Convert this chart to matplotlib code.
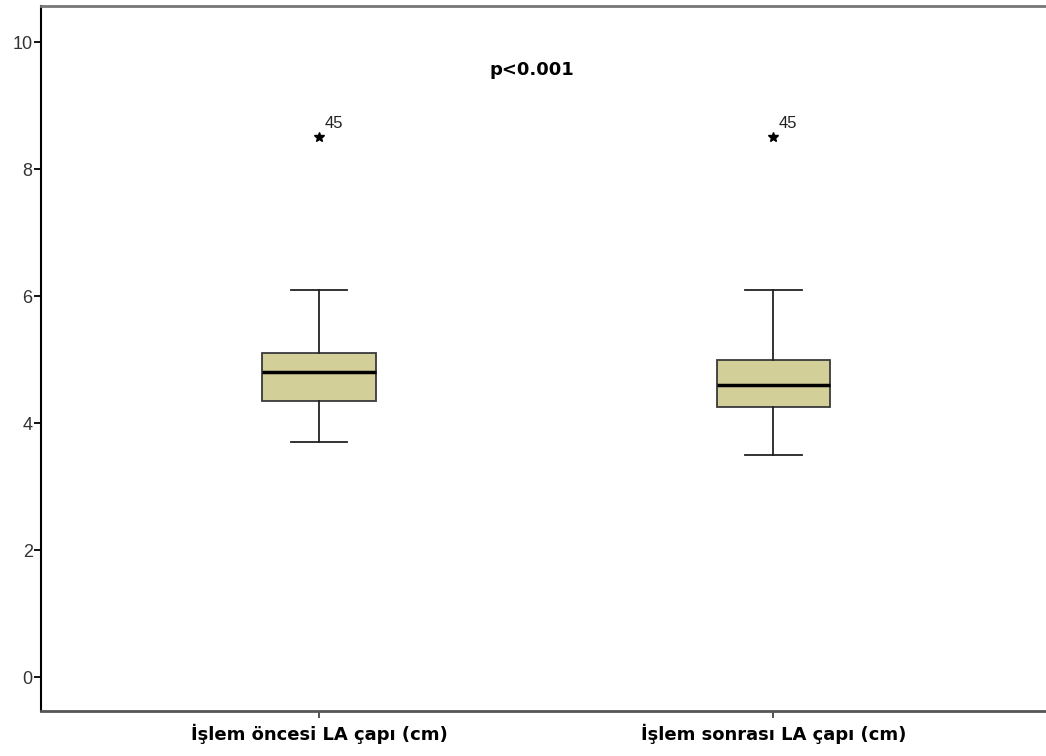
import matplotlib
matplotlib.use('Agg')
import matplotlib.pyplot as plt

plt.rcParams['font.family'] = ['Liberation Sans', 'DejaVu Sans']

labels = ['İşlem öncesi LA çapı (cm)', 'İşlem sonrası LA çapı (cm)']
medians = [4.8, 4.6]
q1 = [4.35, 4.25]
q3 = [5.1, 5.0]
whislo = [3.7, 3.5]
whishi = [6.1, 6.1]
outliers = [[8.5], [8.5]]
outlier_ids = ['45', '45']
p_text = 'p<0.001'

stats = []
for i in range(len(labels)):
    stats.append({'med': medians[i], 'q1': q1[i], 'q3': q3[i],
                  'whislo': whislo[i], 'whishi': whishi[i], 'fliers': []})

fig = plt.figure(figsize=(10.46, 7.56), dpi=100)
ax = fig.add_axes([0.0392, 0.0595, 0.9608, 0.9325])

pos = [1, 2]
ax.bxp(stats, positions=pos, widths=0.25, patch_artist=True, showfliers=False,
       boxprops=dict(facecolor='#D3CF99', edgecolor='#3a3a3a', linewidth=1.3),
       medianprops=dict(color='black', linewidth=2.5),
       whiskerprops=dict(color='#222222', linewidth=1.3),
       capprops=dict(color='#222222', linewidth=1.3),
       capwidths=0.125)

for p, outs, oid in zip(pos, outliers, outlier_ids):
    for o in outs:
        ax.plot(p, o, marker='*', color='black', markersize=7, linestyle='none')
        ax.text(p + 0.012, o + 0.1, oid, fontsize=12, color='#222222', ha='left', va='bottom')

ax.text(1.468, 9.56, p_text, fontsize=13, fontweight='bold', family='DejaVu Sans',
        ha='center', va='center')

ax.set_xlim(0.388, 2.60)
ax.set_ylim(-0.535, 10.57)
ax.set_xticks(pos)
ax.set_xticklabels(labels, fontsize=13, fontweight='bold', family='DejaVu Sans')
ax.set_yticks([0, 2, 4, 6, 8, 10])
ax.tick_params(axis='y', labelsize=13, labelcolor='#333333', length=5, width=1.3, direction='out', pad=1)
ax.tick_params(axis='x', length=5, width=1.3, color='#444444', direction='out', pad=4)

ax.spines['left'].set_color('black')
ax.spines['left'].set_linewidth(1.5)
ax.spines['bottom'].set_color('#555555')
ax.spines['bottom'].set_linewidth(2)
ax.spines['top'].set_color('#777777')
ax.spines['top'].set_linewidth(2)
ax.spines['right'].set_visible(False)

fig.savefig('out.png', dpi=100)
